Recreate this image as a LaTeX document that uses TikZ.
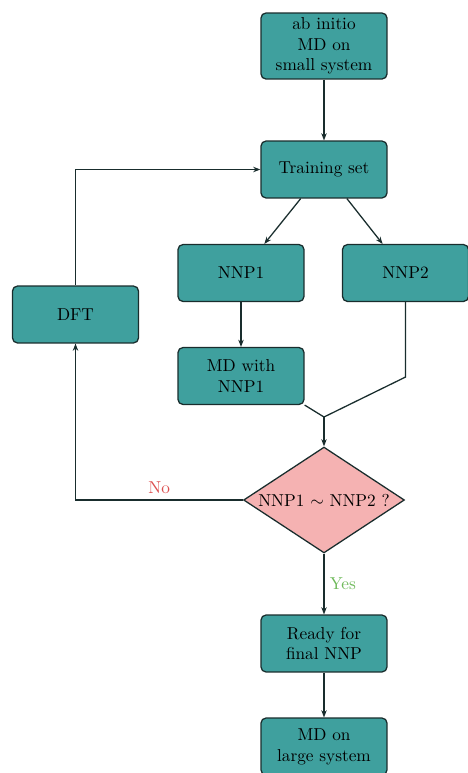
\documentclass[tikz,border=0pt]{standalone}
\usepackage{amsmath}
\usepackage{tikz}
\usetikzlibrary{positioning, arrows.meta, shapes.geometric}

\definecolor{verdeacqua}{RGB}{63,160,158}
\definecolor{bordoscuro}{RGB}{25,45,45}
\definecolor{rosachiaro}{RGB}{245,178,178}
\definecolor{rossono}{RGB}{220,80,80}
\definecolor{verdesi}{RGB}{110,185,90}

\begin{document}
\begin{tikzpicture}[x=0.022cm, y=-0.022cm, font=\fontsize{10.8pt}{13pt}\selectfont]
    % Stili per blocchi e frecce
    \tikzset{
        blocco/.style={
            rectangle,
            rounded corners=3pt,
            draw=bordoscuro,
            thick,
            fill=verdeacqua,
            align=center,
            minimum width=2.77cm,
            minimum height=1.25cm,
            inner sep=2pt
        },
        decisione/.style={
            diamond,
            aspect=1.5,
            draw=bordoscuro,
            thick,
            fill=rosachiaro,
            minimum width=3.54cm,
            minimum height=2.33cm,
            inner sep=1pt
        },
        freccia/.style={
            thick,
            draw=bordoscuro,
            -{Stealth[length=1.6mm, width=1.2mm]}
        },
        linea/.style={
            thick,
            draw=bordoscuro
        }
    }

    % Cornice (dimensioni della figura)
    \useasboundingbox (0,0) rectangle (468,773);

    % --- Blocchi ---
    \node[blocco, minimum height=1.45cm] (abinitio) at (324,46) {ab initio\\MD on\\small system};
    \node[blocco] (training) at (324,169.5) {Training set};
    \node[blocco] (nnpuno) at (241,273) {NNP1};
    \node[blocco] (nnpdue) at (405.5,273) {NNP2};
    \node[blocco] (dft) at (75.5,314.5) {DFT};
    \node[blocco] (mdnnp) at (241,376) {MD with\\NNP1};
    \node[decisione] (confronto) at (324,500) {NNP1 $\sim$ NNP2 ?};
    \node[blocco] (ready) at (324,643.5) {Ready for\\final NNP};
    \node[blocco] (mdlarge) at (324,746.5) {MD on\\large system};

    % Punto di incontro sopra il rombo
    \coordinate (incontro) at (324,417);

    % --- Collegamenti ---
    \draw[freccia] (abinitio) -- (training);
    \draw[freccia] (training) -- (nnpuno);
    \draw[freccia] (training) -- (nnpdue);
    \draw[freccia] (nnpuno) -- (mdnnp);
    \draw[linea] (mdnnp.south east) -- (incontro);
    \draw[linea] (nnpdue.south) -- ++(0,75) -- (incontro);
    \draw[freccia] (incontro) -- (confronto);

    % Ramo "No": si torna al DFT e poi al training set
    \draw[freccia] (confronto.west) -| node[pos=0.25, above, text=rossono] {No} (dft.south);
    \draw[freccia] (dft.north) |- (training.west);

    % Ramo "Yes"
    \draw[freccia] (confronto.south) -- node[right, text=verdesi] {Yes} (ready);
    \draw[freccia] (ready) -- (mdlarge);

\end{tikzpicture}
\end{document}
